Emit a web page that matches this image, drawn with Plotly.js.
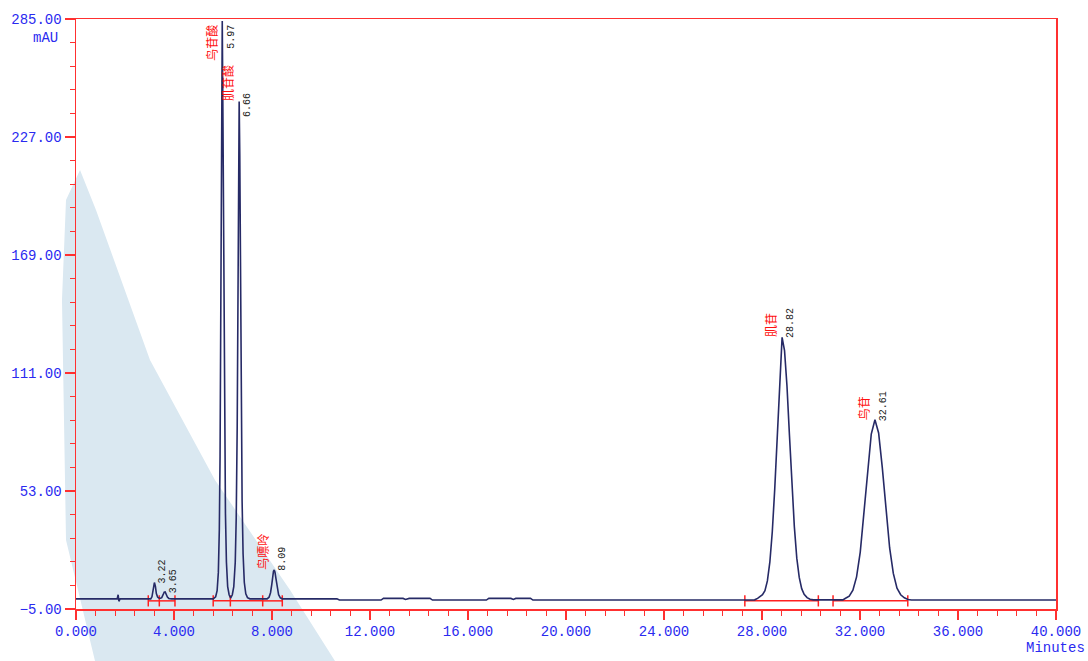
<!DOCTYPE html>
<html>
<head>
<meta charset="utf-8">
<script src="https://cdn.plot.ly/plotly-3.0.1.min.js"></script>
<style>html,body{margin:0;padding:0;background:#fff;}#chart{width:1088px;height:661px;}</style>
</head>
<body>
<div id="chart"></div>
<script>
// ---- Chromatogram signal (minutes, mAU) ----
const baseStartT = [0.0, 1.68, 1.72, 1.75, 1.80, 3.00];
const baseStartY = [0.0, 0.0, 2.0, -1.2, 0.0, 0.0];

const peakA_T = [3.05, 3.10, 3.15, 3.20, 3.24, 3.28, 3.33, 3.38, 3.45, 3.50, 3.55, 3.60, 3.64, 3.68, 3.73, 3.79, 3.90];
const peakA_Y = [0.0, 1.0, 4.5, 8.0, 6.2, 2.6, 0.9, 0.4, 0.3, 0.6, 1.9, 3.3, 3.4, 2.3, 0.9, 0.2, 0.0];

const peakB_T = [5.60, 5.70, 5.76, 5.81, 5.85, 5.88, 5.91, 5.94, 5.97, 6.00, 6.03, 6.06, 6.10, 6.14, 6.19, 6.25, 6.31];
const peakB_Y = [0.0, 1.0, 4.0, 13.0, 34.0, 70.0, 140.0, 225.0, 284.0, 232.0, 155.0, 88.0, 42.0, 18.0, 6.0, 2.0, 0.4];

const peakC_T = [6.38, 6.44, 6.50, 6.54, 6.58, 6.61, 6.635, 6.66, 6.685, 6.71, 6.74, 6.78, 6.82, 6.87, 6.93, 7.00, 7.10];
const peakC_Y = [2.0, 6.0, 18.0, 40.0, 85.0, 150.0, 215.0, 244.5, 218.0, 160.0, 98.0, 48.0, 22.0, 8.0, 2.5, 0.6, 0.0];

const peakD_T = [7.80, 7.88, 7.94, 7.99, 8.03, 8.06, 8.09, 8.12, 8.16, 8.21, 8.27, 8.34, 8.42];
const peakD_Y = [0.0, 0.8, 3.0, 7.0, 11.5, 13.6, 14.2, 13.2, 10.0, 5.5, 2.0, 0.5, 0.0];

const baseMidT = [10.65, 10.75, 12.45, 12.55, 13.35, 13.45, 13.60, 14.45, 14.55, 16.75, 16.85, 17.75, 17.85, 17.95, 18.55, 18.65, 27.60];
const baseMidY = [0.0, -0.6, -0.6, 0.2, 0.2, -0.3, 0.2, 0.2, -0.6, -0.6, 0.2, 0.2, -0.3, 0.2, 0.2, -0.6, -0.6];

const peakE_T = [27.70, 27.82, 27.92, 28.02, 28.12, 28.22, 28.32, 28.42, 28.52, 28.62, 28.72, 28.82, 28.92, 29.02, 29.12, 29.22, 29.32, 29.42, 29.52, 29.62, 29.72, 29.84, 29.96, 30.10];
const peakE_Y = [-0.5, 0.2, 0.9, 2.0, 4.0, 8.8, 18.0, 33.0, 54.0, 79.0, 104.0, 128.5, 122.0, 104.5, 80.5, 56.0, 35.5, 20.0, 10.5, 5.0, 2.2, 0.6, -0.2, -0.5];

const peakF_T = [31.30, 31.41, 31.56, 31.71, 31.86, 32.01, 32.16, 32.31, 32.46, 32.61, 32.76, 32.91, 33.06, 33.21, 33.36, 33.51, 33.66, 33.81, 33.96, 34.10];
const peakF_Y = [-0.5, 0.3, 1.3, 4.2, 10.8, 23.0, 41.5, 63.0, 81.0, 88.0, 81.5, 64.5, 43.5, 25.0, 12.5, 5.2, 2.0, 0.5, -0.3, -0.6];

const baseEndT = [34.30, 40.0];
const baseEndY = [-0.6, -0.6];

// ---- Peak annotations ----
const peakTimes   = [3.20, 3.63, 5.97, 6.66, 8.09, 28.82, 32.61];
const peakHeights = [8.0, 3.4, 284.0, 244.5, 14.2, 128.5, 88.0];
const peakRT      = ['3.22', '3.65', '5.97', '6.66', '8.09', '28.82', '32.61'];
const peakNames   = ['', '', '鸟苷酸', '肌苷酸', '鸟嘌呤', '肌苷', '鸟苷'];

// ---- Integration events (baseline segments) ----
const integStart = [2.95, 5.60, 7.62, 27.30, 30.90];
const integEnd   = [4.04, 7.62, 8.42, 30.30, 33.95];
const integTicks = [2.95, 3.40, 4.04, 5.60, 6.30, 7.62, 8.42, 27.30, 30.30, 30.90, 33.95];

// ---- Axis ticks ----
const yTicks = [-5, 53, 111, 169, 227, 285];
const xTicks = [0, 4, 8, 12, 16, 20, 24, 28, 32, 36, 40];

const T = [].concat(baseStartT, peakA_T, [4.5, 5.5], peakB_T, peakC_T, [7.5], peakD_T, [9.0], baseMidT, peakE_T, [30.5], peakF_T, baseEndT);
const Y = [].concat(baseStartY, peakA_Y, [0, 0], peakB_Y, peakC_Y, [0], peakD_Y, [0], baseMidY, peakE_Y, [-0.6], peakF_Y, baseEndY);

// build segmented red integration baseline
const segX = [], segY = [];
for (let i = 0; i < integStart.length; i++) {
  segX.push(integStart[i], integEnd[i], null);
  segY.push(-1.0, -1.0, null);
}

const traces = [
  {x: segX, y: segY, mode: 'lines', line: {color: '#ff2020', width: 1.5}, hoverinfo: 'skip', showlegend: false},
  {x: integTicks, y: integTicks.map(() => -1.0), mode: 'markers', marker: {symbol: 'line-ns', size: 8, line: {color: '#ff2020', width: 1.5}}, hoverinfo: 'skip', showlegend: false},
  {x: T, y: Y, mode: 'lines', line: {color: '#262a66', width: 1.6}, showlegend: false}
];

const blue = '#2a2af0';
const mono = 'Liberation Mono, DejaVu Sans Mono, monospace';
const annotations = [];
for (let i = 0; i < peakTimes.length; i++) {
  const atTop = peakHeights[i] > 270;
  if (peakNames[i]) {
    annotations.push({
      x: peakTimes[i], y: peakHeights[i], xref: 'x', yref: 'y',
      text: peakNames[i], showarrow: false, textangle: -90,
      xanchor: 'right', yanchor: atTop ? 'top' : 'bottom',
      xshift: -1, yshift: -2,
      font: {family: 'Noto Sans CJK SC', size: 12, color: '#ff1010'}
    });
  }
  annotations.push({
    x: peakTimes[i], y: peakHeights[i], xref: 'x', yref: 'y',
    text: peakRT[i], showarrow: false, textangle: -90,
    xanchor: 'left', yanchor: atTop ? 'top' : 'bottom',
    xshift: 1, yshift: atTop ? -2 : (i === 3 ? -18 : -3),
    font: {family: mono, size: 10, color: '#222222'}
  });
}
annotations.push({xref: 'paper', yref: 'paper', x: -0.016, y: 0.985, xanchor: 'right', yanchor: 'top', text: 'mAU', showarrow: false, font: {family: mono, size: 14, color: blue}});
annotations.push({xref: 'paper', yref: 'paper', x: 1.0306, y: -0.0815, xanchor: 'right', yanchor: 'bottom', text: 'Minutes', showarrow: false, borderpad: 0, font: {family: mono, size: 14, color: blue}});

// light watermark band behind the plot
function px(xp, yp) { return [(xp - 76) / 980, (609 - yp) / 590]; }
const band = [[80, 170], [96, 210], [150, 360], [215, 480], [290, 590], [335, 661], [95, 661], [66, 540], [62, 300], [66, 200]];
let path = '';
band.forEach((p, i) => { const q = px(p[0], p[1]); path += (i ? 'L' : 'M') + q[0].toFixed(4) + ',' + q[1].toFixed(4); });
path += 'Z';

const layout = {
  width: 1088, height: 661,
  margin: {l: 76, r: 32, t: 19, b: 52},
  paper_bgcolor: '#ffffff', plot_bgcolor: 'rgba(0,0,0,0)',
  showlegend: false,
  xaxis: {
    range: [0, 40], tickvals: xTicks, tickformat: '.3f',
    showgrid: false, zeroline: false,
    showline: true, linecolor: '#ff3030', linewidth: 1.5, mirror: true,
    ticks: 'outside', ticklen: 9, tickwidth: 1.5, tickcolor: '#ff3030',
    minor: {dtick: 0.8, ticks: 'outside', ticklen: 5, tickwidth: 1.2, tickcolor: '#ff3030', showgrid: false},
    tickfont: {family: mono, size: 14, color: blue}
  },
  yaxis: {
    range: [-5, 285], tickvals: yTicks, tickformat: '.2f',
    showgrid: false, zeroline: false,
    showline: true, linecolor: '#ff3030', linewidth: 1.5, mirror: true,
    ticks: 'outside', ticklen: 10, tickwidth: 1.5, tickcolor: '#ff3030',
    minor: {dtick: 11.6, tick0: -5, ticks: 'outside', ticklen: 5, tickwidth: 1.2, tickcolor: '#ff3030', showgrid: false},
    tickfont: {family: mono, size: 14, color: blue}
  },
  shapes: [
    {type: 'path', xref: 'paper', yref: 'paper', path: path, fillcolor: '#dae8f1', line: {width: 0}, layer: 'below'}
  ],
  annotations: annotations
};

Plotly.newPlot('chart', traces, layout, {displayModeBar: false, staticPlot: true});
</script>
</body>
</html>
